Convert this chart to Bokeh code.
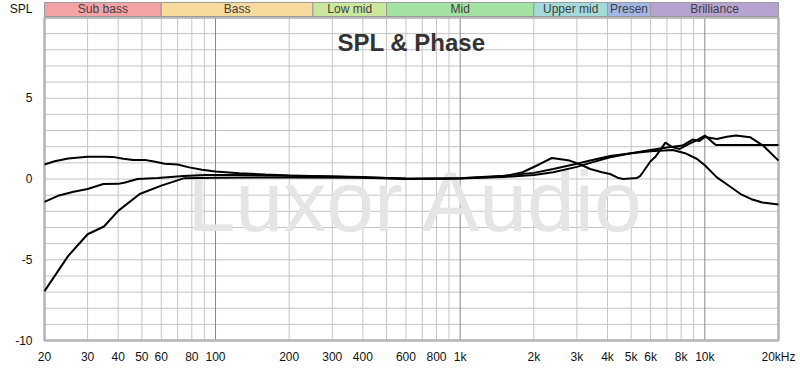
from bokeh.plotting import figure
from bokeh.models import FixedTicker, Range1d
from bokeh.core.properties import value
from bokeh.embed import file_html
from bokeh.resources import INLINE

# ---------------- data ----------------
freq_a = [20, 22, 25, 30, 35, 38, 42, 46, 52, 56, 62, 70, 78, 88, 100, 125, 160, 200, 300, 400, 500,
          600, 800, 1000, 1500, 2000, 2400, 3000, 3400, 4100, 5000, 6000, 7400, 8300, 9300, 10000,
          11200, 12500, 14000, 15500, 17200, 20000]
spl_a = [0.9, 1.1, 1.27, 1.38, 1.38, 1.37, 1.25, 1.17, 1.17, 1.08, 0.95, 0.9, 0.72, 0.57, 0.47, 0.36,
         0.28, 0.22, 0.15, 0.1, 0.07, 0.03, 0.02, 0.05, 0.2, 0.38, 0.62, 0.95, 1.15, 1.42, 1.6, 1.72,
         1.8, 1.6, 1.24, 0.85, 0.1, -0.4, -0.93, -1.25, -1.45, -1.58]

freq_b = [20, 22.7, 26.3, 30, 34.8, 40, 42.3, 48, 58, 74, 91, 120, 200, 400, 600, 1000, 1500, 1800,
          2100, 2370, 2800, 3100, 3400, 3800, 4100, 4400, 4630, 5270, 5450, 5600, 6000, 6300, 6900,
          7300, 7900, 8700, 9200, 10000, 10700, 11100, 14000, 20000]
spl_b = [-1.41, -1.04, -0.79, -0.62, -0.31, -0.3, -0.23, 0.0, 0.06, 0.19, 0.25, 0.25, 0.2, 0.12,
         0.02, 0.05, 0.15, 0.42, 0.9, 1.3, 1.14, 0.9, 0.62, 0.42, 0.31, 0.08, 0.0, 0.06, 0.2, 0.45,
         1.1, 1.4, 2.25, 2.0, 1.86, 2.2, 2.38, 2.69, 2.3, 2.11, 2.11, 2.11]

freq_c = [20, 25, 30, 35, 40, 49, 60, 74, 100, 200, 400, 600, 1000, 1500, 2000, 2400, 3000, 3400,
          4100, 5000, 6000, 7000, 8100, 8900, 9500, 10000, 11200, 12300, 13400, 15300, 17300, 20000]
spl_c = [-6.94, -4.76, -3.42, -2.94, -1.97, -0.93, -0.41, 0.04, 0.08, 0.1, 0.08, 0.0, 0.03, 0.12,
         0.25, 0.42, 0.75, 1.0, 1.35, 1.6, 1.8, 1.95, 2.07, 2.44, 2.35, 2.6, 2.48, 2.62, 2.69, 2.59,
         2.07, 1.14]

band_names = ["Sub bass", "Bass", "Low mid", "Mid", "Upper mid", "Presen", "Brilliance"]
band_lo = [20, 60, 250, 500, 2000, 4000, 6000]
band_hi = [60, 250, 500, 2000, 4000, 6000, 20000]
band_colors = ["#F4A2A6", "#F6DB9C", "#CBE79E", "#A3E2A3", "#A3DBDA", "#A3B7E6", "#B6A3D2"]

x_ticks = [20, 30, 40, 50, 60, 80, 100, 200, 300, 400, 600, 800, 1000, 2000, 3000, 4000, 5000,
           6000, 8000, 10000, 20000]
x_labels = ["20", "30", "40", "50", "60", "80", "100", "200", "300", "400", "600", "800", "1k",
            "2k", "3k", "4k", "5k", "6k", "8k", "10k", "20kHz"]
y_ticks = [-10, -5, 0, 5]
y_labels = ["-10", "-5", "0", "5"]
spl_tick = 10.5

grid_minor = [20, 30, 40, 50, 60, 70, 80, 90, 200, 300, 400, 500, 600, 700, 800, 900,
              2000, 3000, 4000, 5000, 6000, 7000, 8000, 9000, 20000]
grid_major = [100, 1000, 10000]
grid_y = [-9, -8, -7, -6, -5, -4, -3, -2, -1, 0, 1, 2, 3, 4, 5, 6, 7, 8, 9]

FONT = "Liberation Sans"

# ---------------- figure ----------------
p = figure(width=800, height=372, x_axis_type="log", output_backend="svg",
           toolbar_location=None, x_range=Range1d(19.44, 20575), y_range=Range1d(-10.12, 11.05),
           min_border_left=41, min_border_right=19, min_border_top=0, min_border_bottom=30)
p.outline_line_color = None
p.xgrid.visible = False
p.ygrid.visible = False
p.background_fill_color = "white"
p.border_fill_color = "white"

# axes
p.xaxis.ticker = FixedTicker(ticks=x_ticks)
p.xaxis.major_label_overrides = {t: l for t, l in zip(x_ticks, x_labels)}
p.yaxis.ticker = FixedTicker(ticks=y_ticks + [spl_tick])
ov = {t: l for t, l in zip(y_ticks, y_labels)}
ov[spl_tick] = "SPL"
p.yaxis.major_label_overrides = ov
for ax in (p.xaxis, p.yaxis):
    ax.axis_line_color = None
    ax.major_tick_line_color = None
    ax.minor_tick_line_color = None
    ax.major_label_text_font = FONT
    ax.major_label_text_font_size = "12px"
    ax.major_label_text_color = "#111111"
p.xaxis.major_label_standoff = 1
p.yaxis.major_label_standoff = 3

# grid lines
p.segment(x0=grid_minor, y0=-10, x1=grid_minor, y1=10, line_color="#C4C4C4", line_width=1)
p.segment(x0=20, y0=grid_y, x1=20000, y1=grid_y, line_color="#C4C4C4", line_width=1)
p.segment(x0=grid_major, y0=-10, x1=grid_major, y1=10, line_color="#888888", line_width=1)

# watermark
p.text(x=[666], y=[-1.36], text=["Luxor Audio"], text_align="center", text_baseline="alphabetic",
       text_font=value(FONT), text_font_size=value("86px"), text_color="#E5E5E5")

# title
p.text(x=[632], y=[8.45], text=["SPL & Phase"], text_align="center", text_baseline="alphabetic",
       text_font=value(FONT), text_font_size=value("24px"), text_font_style="bold",
       text_color="#333333")

# frame border
p.quad(left=[20], right=[20000], bottom=[-10], top=[10], fill_color=None,
       line_color="#B4B4B4", line_width=2.5)

# frequency band bar
band_mid = [(lo * hi) ** 0.5 for lo, hi in zip(band_lo, band_hi)]
p.quad(left=band_lo, right=band_hi, bottom=10.06, top=10.93, fill_color=band_colors,
       line_color="#9A9A9A", line_width=1)
p.text(x=band_mid, y=10.5, text=band_names, text_align="center", text_baseline="middle",
       text_font=value(FONT), text_font_size=value("12px"), text_color="#404040")

# curves
for fx, sy in ((freq_a, spl_a), (freq_b, spl_b), (freq_c, spl_c)):
    p.line(fx, sy, line_color="black", line_width=2)

open("out.html", "w").write(file_html(p, INLINE))
